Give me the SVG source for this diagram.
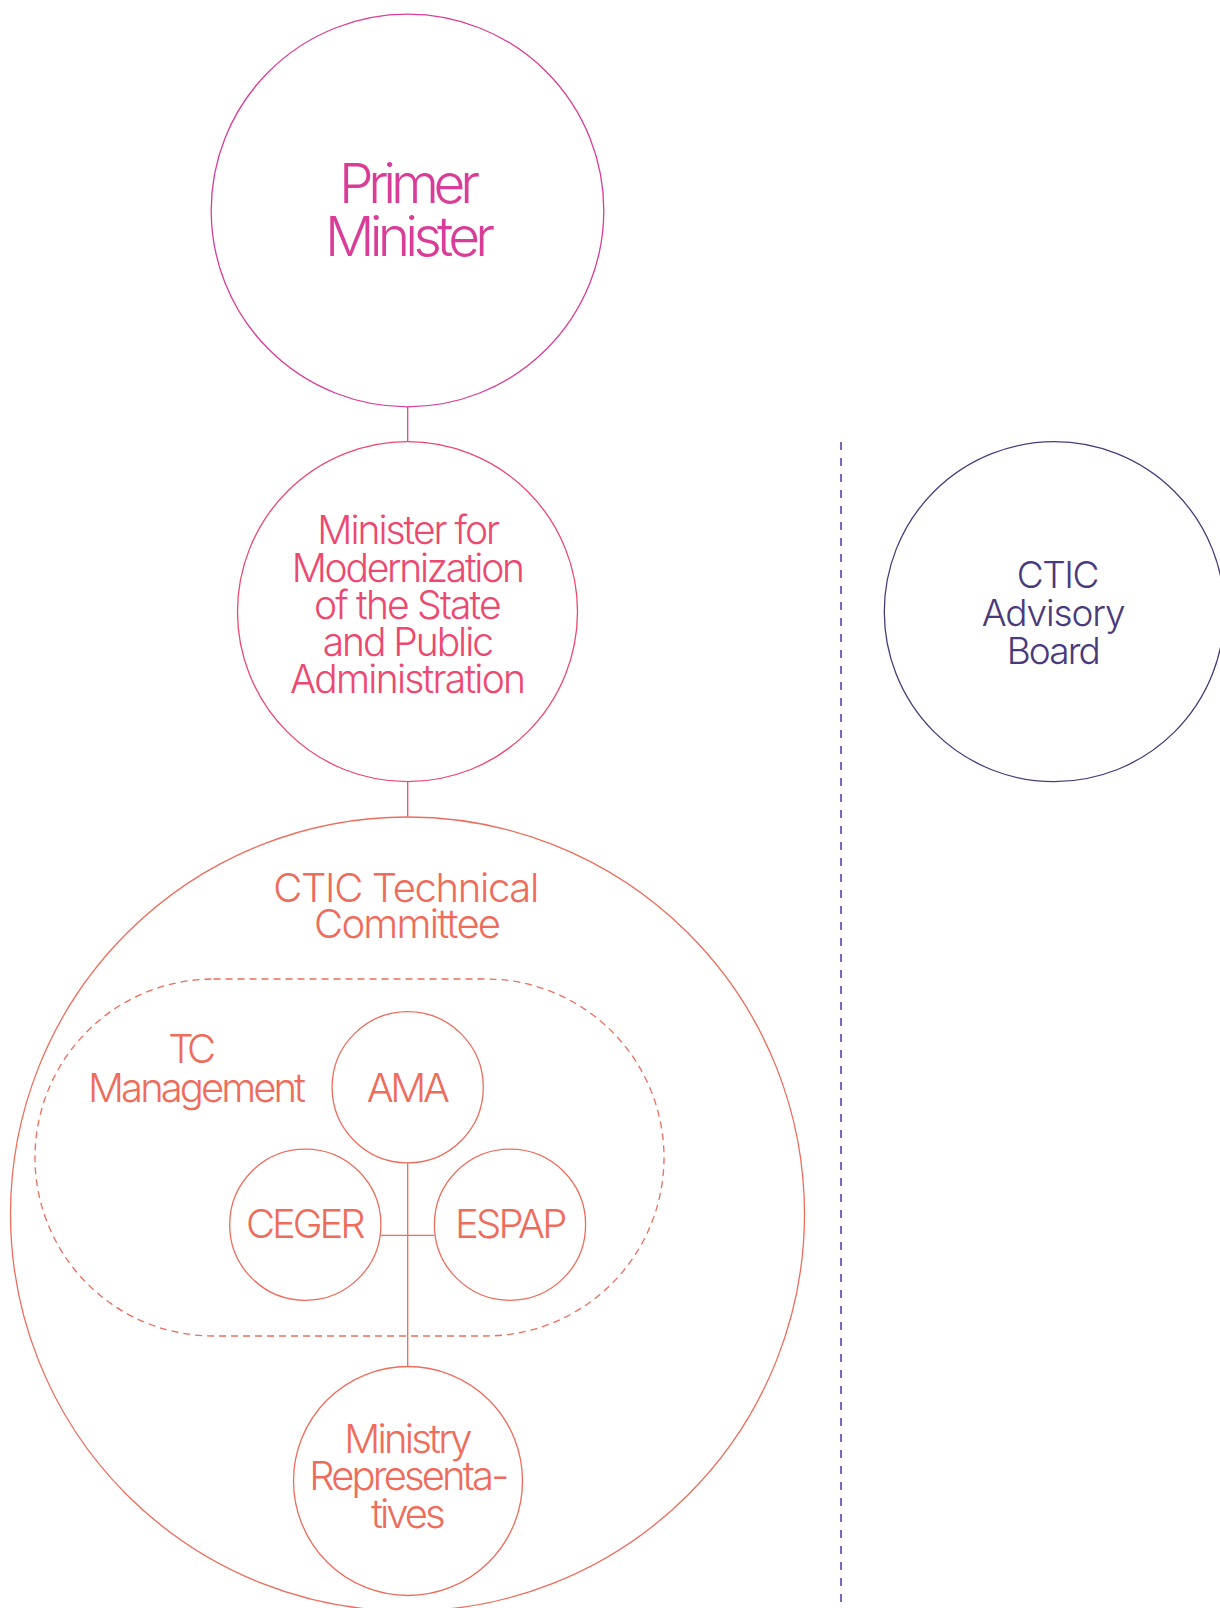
<svg xmlns="http://www.w3.org/2000/svg" width="1220" height="1608" viewBox="0 0 1220 1608">
  <style>
    .ring { fill: none; stroke-width: 1.3; }
    .lbl { font-family: Inter, "Liberation Sans", sans-serif; font-weight: 300; }
    .pm { stroke: #DA3D97; }
    .pm-t { fill: #DA3D97; font-size: 55px; }
    .mod { stroke: #EC4870; }
    .mod-t { fill: #EC4870; font-size: 39px; }
    .tc { stroke: #EE6C5B; }
    .tc-t { fill: #EE6C5B; font-size: 40px; }
    .adv { stroke: #4A3A7C; }
    .adv-t { fill: #4A3A7C; font-size: 37px; }
    .link { fill: none; stroke-width: 1.3; }
  </style>

  <rect x="0" y="0" width="1220" height="1608" fill="#FFFFFF"/>

  <!-- connectors -->
  <g id="connectors">
    <line class="link" x1="407.7" y1="406.5" x2="407.7" y2="441.7" stroke="#E4438A"/>
    <line class="link" x1="407.7" y1="781.7" x2="407.7" y2="816.7" stroke="#EC5068"/>
    <line class="link" x1="407.7" y1="1163" x2="407.7" y2="1366" stroke="#EE6C5B"/>
    <line class="link" x1="381" y1="1235.3" x2="434.3" y2="1235.3" stroke="#EE6C5B"/>
    <!-- separator between committee structure and advisory board -->
    <line x1="841" y1="442" x2="841" y2="1608" fill="none" stroke="#6A3DA3" stroke-width="1.6" stroke-dasharray="8 8"/>
  </g>

  <g id="primer-minister">
    <circle class="ring pm" cx="407.5" cy="210.5" r="196.3"/>
    <text class="lbl pm-t" x="339" y="202.7" textLength="141">Primer</text>
    <text class="lbl pm-t" x="325" y="256" textLength="170">Minister</text>
  </g>

  <g id="minister-modernization">
    <circle class="ring mod" cx="407.5" cy="611.7" r="170"/>
    <text class="lbl mod-t" x="317.3" y="544.3" textLength="182.7">Minister for</text>
    <text class="lbl mod-t" x="291.7" y="581.7" textLength="233.3">Modernization</text>
    <text class="lbl mod-t" x="314" y="619" textLength="187.7">of the State</text>
    <text class="lbl mod-t" x="322.7" y="655.7" textLength="171.3">and Public</text>
    <text class="lbl mod-t" x="290" y="693.3" textLength="236">Administration</text>
  </g>

  <g id="ctic-advisory-board">
    <circle class="ring adv" cx="1054.3" cy="611.7" r="170"/>
    <text class="lbl adv-t" x="1016.7" y="588.3" textLength="82.7">CTIC</text>
    <text class="lbl adv-t" x="981.7" y="626" textLength="144">Advisory</text>
    <text class="lbl adv-t" x="1006.7" y="664.3" textLength="94">Board</text>
  </g>

  <g id="ctic-technical-committee">
    <circle class="ring tc" cx="407.5" cy="1214" r="397"/>
    <text class="lbl tc-t" x="273.3" y="902.3" textLength="266">CTIC Technical</text>
    <text class="lbl tc-t" x="314" y="938.3" textLength="187">Committee</text>
  </g>

  <g id="tc-management">
    <rect class="ring tc" x="35" y="979" width="629" height="357" rx="178.5" ry="178.5" stroke-dasharray="7 5"/>
    <text class="lbl tc-t" x="168.3" y="1063.3" textLength="47.7">TC</text>
    <text class="lbl tc-t" x="88" y="1101.7" textLength="218">Management</text>
  </g>

  <g id="ama">
    <circle class="ring tc" cx="407.7" cy="1087.3" r="75.6"/>
    <text class="lbl tc-t" x="366.7" y="1101.7" textLength="83.3">AMA</text>
  </g>

  <g id="ceger">
    <circle class="ring tc" cx="305.3" cy="1224.7" r="75.6"/>
    <text class="lbl tc-t" x="246" y="1238.3" textLength="119.7">CEGER</text>
  </g>

  <g id="espap">
    <circle class="ring tc" cx="510" cy="1224.7" r="75.6"/>
    <text class="lbl tc-t" x="455" y="1238.3" textLength="112.3">ESPAP</text>
  </g>

  <g id="ministry-representatives">
    <circle class="ring tc" cx="408" cy="1481" r="114.5"/>
    <text class="lbl tc-t" x="344.3" y="1452.7" textLength="128.3">Ministry</text>
    <text class="lbl tc-t" x="309.3" y="1490" textLength="200">Representa-</text>
    <text class="lbl tc-t" x="371" y="1527.7" textLength="74.7">tives</text>
  </g>
</svg>
